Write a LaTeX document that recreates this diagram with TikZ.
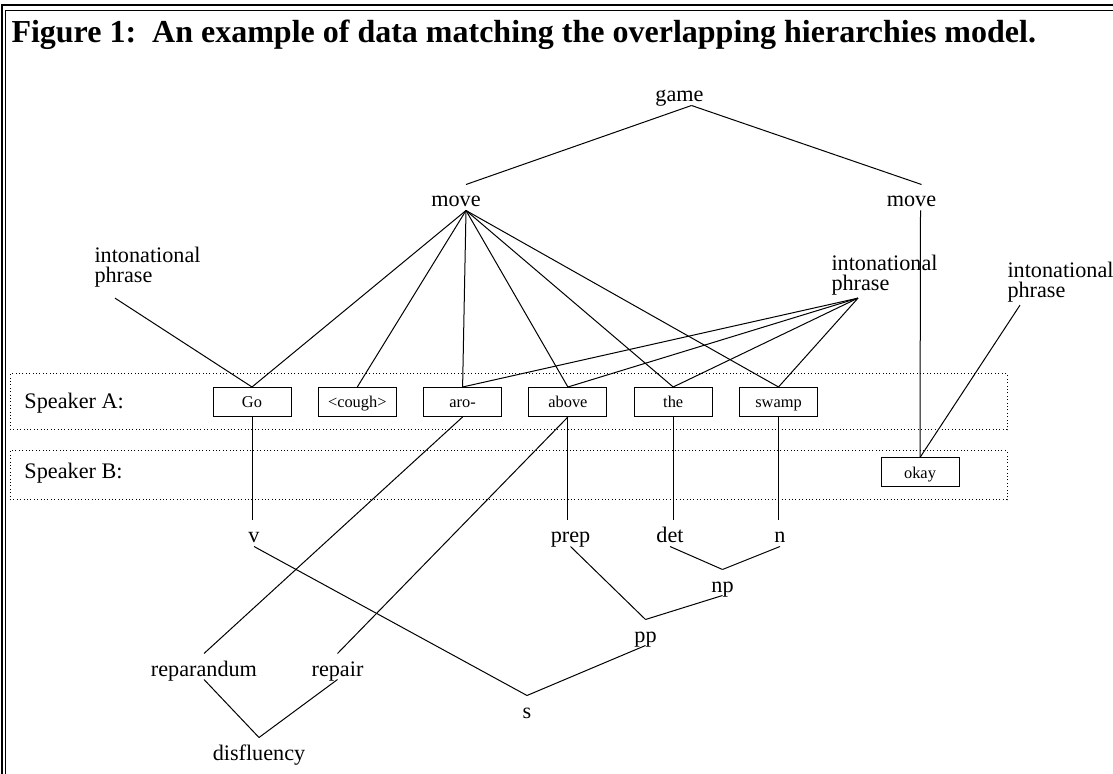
\documentclass[tikz,border=0pt]{standalone}
\usepackage{fontspec}
\setmainfont{Liberation Serif}
\usetikzlibrary{positioning}
\tikzset{cat/.style={inner sep=0pt, anchor=base, text height=11pt, text depth=1.5pt, font=\fontsize{11.1}{13}\selectfont}}
\tikzset{ip/.style={inner sep=0pt, anchor=north west, align=left, font=\fontsize{11.1}{10}\selectfont}}
\tikzset{word/.style={draw, minimum width=39pt, minimum height=14.5pt, inner sep=0pt, text height=6pt, text depth=0pt, font=\fontsize{8.2}{10}\selectfont}}
\tikzset{lane/.style={draw, dash pattern=on 0.5pt off 1.2pt, inner sep=0pt, minimum width=498.5pt}}
\tikzset{spk/.style={inner sep=0pt, anchor=base west, font=\fontsize{11.1}{13}\selectfont}}

\begin{document}
\begin{tikzpicture}[x=0.5pt, y=-0.5pt, on grid, line width=0.5pt]
        \useasboundingbox (0,0) rectangle (1113,774);
        % frame
        \draw[line width=1.2pt] (2.2,774) -- (2.2,5.3) -- (1113,5.3);
        \draw[line width=0.6pt] (5.3,774) -- (5.3,10.8) -- (1113,10.8);
        \node[anchor=base west, inner sep=0pt, font=\bfseries\fontsize{16}{18}\selectfont] (title) at (11,43)
         {Figure 1:\hspace{0.5em}An example of data matching the overlapping hierarchies model.};

        % speaker lanes
        \node[lane, minimum height=28pt] (laneA) at (508.5,402) {};
        \node[lane, minimum height=24.5pt] (laneB) at (508.5,475.5) {};
        \node[spk] (spkA) at (24,409) {Speaker A:};
        \node[spk] (spkB) at (24,479) {Speaker B:};

        % words
        \node[word] (go) at (252,402) {Go};
        \node[word, right=52.65pt of go] (cough) {<cough>};
        \node[word, right=52.65pt of cough] (aro) {aro-};
        \node[word, right=52.65pt of aro] (above) {above};
        \node[word, right=52.65pt of above] (the) {the};
        \node[word, right=52.65pt of the] (swamp) {swamp};
        \node[word] (okay) at (920,472.5) {okay};

        % upper structure
        \node[cat] (game) at (679.5,102) {game};
        \node[cat] (move1) at (456,207) {move};
        \node[cat] (move2) at (911.5,207) {move};
        \node[ip] (ip1) at (94,247) {intonational\\phrase};
        \node[ip] (ip2) at (831,255) {intonational\\phrase};
        \node[ip] (ip3) at (1007,262) {intonational\\phrase};

        % lower structure
        \node[cat] (v) at (254,543) {v};
        \node[cat] (prep) at (570.5,543) {prep};
        \node[cat] (det) at (670,543) {det};
        \node[cat] (n) at (780,543) {n};
        \node[cat] (np) at (722.5,592) {np};
        \node[cat] (pp) at (645.5,642) {pp};
        \node[cat] (s) at (527,718) {s};
        \node[cat] (reparandum) at (204,676) {reparandum};
        \node[cat] (repair) at (337.5,676) {repair};
        \node[cat] (disfluency) at (259,760) {disfluency};

        \draw ([xshift=6pt]game.south) -- ([xshift=5pt]move1.north);
        \draw ([xshift=6pt]game.south) -- ([xshift=5pt]move2.north);
        \foreach \w in {go,cough,aro,above,the,swamp}
            \draw ([xshift=5pt]move1.south) -- (\w.north);
        \draw ([xshift=4.5pt]move2.south) -- (okay.north);

        \draw ([xshift=10.5pt,yshift=-5pt]ip1.south west) -- (go.north);
        \foreach \w in {aro,above,the,swamp}
            \draw ([xshift=13.5pt,yshift=-1pt]ip2.south west) -- (\w.north);
        \draw ([xshift=6.5pt,yshift=-1pt]ip3.south west) -- (okay.north);

        \draw (go.south) -- (go.south |- v.north);
        \draw (above.south) -- (above.south |- prep.north);
        \draw (the.south) -- (the.south |- det.north);
        \draw (swamp.south) -- (swamp.south |- n.north);
        \draw (aro.south) -- (reparandum.north);
        \draw (above.south) -- (repair.north);

        \draw (v.south) -- (s.north);
        \draw (prep.south) -- (pp.north);
        \draw (det.south) -- (np.north);
        \draw (n.south) -- (np.north);
        \draw (np.south) -- (pp.north);
        \draw (pp.south) -- (s.north);
        \draw (reparandum.south) -- (disfluency.north);
        \draw (repair.south) -- (disfluency.north);
    \end{tikzpicture}
\end{document}
